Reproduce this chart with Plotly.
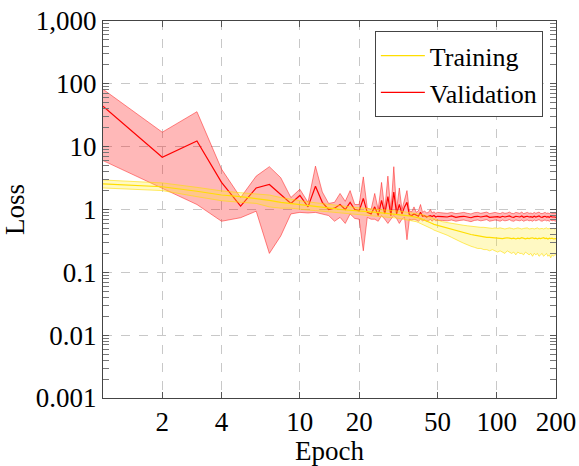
import plotly.graph_objects as go

epochs = list(range(1, 51)) + list(range(53, 201, 3))

val_mean = [44, 6.8, 12.3, 2.7, 1.13, 2.2, 2.5, 1.7, 1.25, 1.67,
            1.1, 2.35, 1.3, 1.0, 1.05, 1.2, 1.0, 1.3, 1.0, 0.95,
            1.5, 0.9, 0.85, 1.1, 0.8, 1.4, 0.85, 1.6, 0.8, 1.9,
            0.85, 1.2, 0.85, 1.1, 1.3, 0.82, 0.8, 0.85, 0.8, 0.78,
            0.9, 0.78, 0.8, 0.76, 0.78, 0.8, 0.77, 0.8, 0.76, 0.78,
            0.77, 0.76, 0.79, 0.75, 0.77, 0.78, 0.76, 0.74, 0.77, 0.78,
            0.76, 0.77, 0.79, 0.75, 0.76, 0.78, 0.77, 0.75, 0.78, 0.76,
            0.77, 0.79, 0.76, 0.75, 0.78, 0.77, 0.76, 0.79, 0.75, 0.77,
            0.78, 0.76, 0.77, 0.75, 0.78, 0.76, 0.77, 0.79, 0.76, 0.75,
            0.77, 0.78, 0.76, 0.77, 0.75, 0.78, 0.76, 0.77, 0.76, 0.75]
val_lo = [6, 2.2, 1.2, 0.65, 0.74, 0.94, 0.2, 0.38, 0.85, 0.9,
          0.88, 0.9, 0.85, 0.8, 0.65, 0.75, 0.6, 0.85, 0.72, 0.7,
          0.22, 0.75, 0.7, 0.7, 0.65, 0.8, 0.7, 0.6, 0.7, 0.8,
          0.72, 0.6, 0.7, 0.75, 0.33, 0.7, 0.68, 0.7, 0.68, 0.65,
          0.7, 0.66, 0.68, 0.65, 0.66, 0.7, 0.65, 0.7, 0.66, 0.67,
          0.67, 0.66, 0.68, 0.65, 0.67, 0.68, 0.66, 0.64, 0.67, 0.68,
          0.66, 0.67, 0.69, 0.65, 0.66, 0.68, 0.67, 0.65, 0.68, 0.66,
          0.67, 0.69, 0.66, 0.65, 0.68, 0.67, 0.66, 0.68, 0.65, 0.67,
          0.68, 0.66, 0.67, 0.65, 0.68, 0.66, 0.67, 0.69, 0.66, 0.65,
          0.67, 0.68, 0.66, 0.67, 0.65, 0.68, 0.66, 0.67, 0.66, 0.65]
val_hi = [82, 17, 36, 4.4, 1.55, 3.4, 4.8, 3.2, 1.55, 2.1,
          1.3, 4.9, 1.9, 1.25, 1.3, 1.8, 1.35, 2.0, 1.2, 1.2,
          3.3, 1.05, 1.0, 1.8, 1.0, 2.7, 1.0, 3.4, 0.95, 4.8,
          1.0, 2.2, 1.0, 1.5, 2.0, 0.95, 0.92, 1.1, 0.9, 0.95,
          1.2, 0.9, 0.95, 0.88, 0.9, 1.0, 0.88, 0.92, 0.87, 0.9,
          0.88, 0.87, 0.9, 0.86, 0.88, 0.9, 0.87, 0.85, 0.89, 0.9,
          0.87, 0.88, 0.91, 0.86, 0.87, 0.9, 0.88, 0.86, 0.9, 0.87,
          0.88, 0.91, 0.87, 0.86, 0.9, 0.88, 0.87, 0.91, 0.86, 0.88,
          0.9, 0.87, 0.88, 0.86, 0.9, 0.87, 0.88, 0.91, 0.87, 0.86,
          0.88, 0.9, 0.87, 0.88, 0.86, 0.9, 0.87, 0.88, 0.87, 0.86]

train_mean = [2.55, 2.3, 1.95, 1.7, 1.6, 1.5, 1.4, 1.3, 1.25, 1.2,
              1.15, 1.12, 1.08, 1.05, 1.03, 1.0, 0.99, 0.98, 0.96, 0.95,
              0.94, 0.93, 0.92, 0.91, 0.9, 0.89, 0.88, 0.87, 0.86, 0.85,
              0.84, 0.83, 0.82, 0.81, 0.8, 0.79, 0.78, 0.77, 0.76, 0.74,
              0.72, 0.7, 0.68, 0.66, 0.64, 0.62, 0.6, 0.58, 0.57, 0.55,
              0.52, 0.5, 0.48, 0.46, 0.44, 0.42, 0.41, 0.4, 0.39, 0.38,
              0.375, 0.37, 0.36, 0.36, 0.355, 0.35, 0.355, 0.35, 0.345, 0.35,
              0.355, 0.35, 0.345, 0.35, 0.34, 0.35, 0.345, 0.355, 0.35, 0.34,
              0.35, 0.345, 0.35, 0.355, 0.345, 0.35, 0.34, 0.35, 0.345, 0.35,
              0.355, 0.345, 0.35, 0.34, 0.35, 0.345, 0.35, 0.34, 0.345, 0.345]
train_lo = [2.2, 2.0, 1.6, 1.38, 1.3, 1.25, 1.1, 1.05, 1.05, 1.0,
            0.98, 0.96, 0.94, 0.92, 0.9, 0.88, 0.87, 0.86, 0.85, 0.84,
            0.83, 0.82, 0.81, 0.8, 0.79, 0.78, 0.77, 0.76, 0.75, 0.74,
            0.73, 0.72, 0.71, 0.7, 0.69, 0.68, 0.67, 0.66, 0.64, 0.62,
            0.6, 0.58, 0.56, 0.54, 0.52, 0.5, 0.49, 0.47, 0.46, 0.45,
            0.42, 0.39, 0.36, 0.33, 0.31, 0.29, 0.27, 0.26, 0.25, 0.24,
            0.24, 0.23, 0.23, 0.22, 0.23, 0.22, 0.21, 0.22, 0.21, 0.2,
            0.22, 0.21, 0.2, 0.21, 0.19, 0.21, 0.2, 0.2, 0.19, 0.21,
            0.2, 0.19, 0.2, 0.18, 0.2, 0.19, 0.2, 0.18, 0.19, 0.2,
            0.18, 0.19, 0.2, 0.18, 0.19, 0.17, 0.19, 0.18, 0.19, 0.19]
train_hi = [2.95, 2.65, 2.25, 1.98, 1.85, 1.75, 1.7, 1.55, 1.45, 1.4,
            1.32, 1.28, 1.24, 1.2, 1.17, 1.14, 1.12, 1.1, 1.08, 1.06,
            1.05, 1.04, 1.03, 1.02, 1.01, 1.0, 0.99, 0.98, 0.97, 0.96,
            0.95, 0.94, 0.93, 0.92, 0.91, 0.9, 0.89, 0.88, 0.87, 0.86,
            0.85, 0.83, 0.81, 0.79, 0.77, 0.75, 0.73, 0.71, 0.69, 0.67,
            0.64, 0.62, 0.6, 0.59, 0.57, 0.56, 0.55, 0.54, 0.54, 0.53,
            0.52, 0.52, 0.51, 0.51, 0.5, 0.51, 0.5, 0.51, 0.5, 0.49,
            0.5, 0.51, 0.5, 0.49, 0.5, 0.51, 0.5, 0.49, 0.5, 0.5,
            0.51, 0.49, 0.5, 0.5, 0.49, 0.5, 0.51, 0.49, 0.5, 0.5,
            0.49, 0.5, 0.51, 0.49, 0.5, 0.49, 0.5, 0.5, 0.49, 0.5]

x_ticks = [2, 4, 10, 20, 50, 100, 200]
y_ticks = [0.001, 0.01, 0.1, 1, 10, 100, 1000]
y_tick_text = ["0.001", "0.01", "0.1", "1", "10", "100", "1,000"]
y_minor = [m * d for d in y_ticks[:-1] for m in range(2, 10)]

RED = "rgb(255,0,0)"
RED_EDGE = "rgba(255,0,0,0.45)"
RED_FILL = "rgba(255,0,0,0.28)"
YEL = "rgb(255,222,0)"
YEL_EDGE = "rgba(255,222,0,0.6)"
YEL_FILL = "rgba(255,235,40,0.28)"
FONT = "Liberation Serif"

fig = go.Figure()

def add_band(name, mean, lo, hi, line_c, edge_c, fill_c):
    fig.add_trace(go.Scatter(x=epochs, y=hi, mode="lines", line=dict(color=edge_c, width=1),
                             showlegend=False, hoverinfo="skip"))
    fig.add_trace(go.Scatter(x=epochs, y=lo, mode="lines", line=dict(color=edge_c, width=1),
                             fill="tonexty", fillcolor=fill_c, showlegend=False, hoverinfo="skip"))
    fig.add_trace(go.Scatter(x=epochs, y=mean, mode="lines", name=name,
                             line=dict(color=line_c, width=1.2)))

add_band("Validation", val_mean, val_lo, val_hi, RED, RED_EDGE, RED_FILL)
add_band("Training", train_mean, train_lo, train_hi, YEL, YEL_EDGE, YEL_FILL)

axis_common = dict(
    type="log", showline=True, linecolor="#444", linewidth=1, mirror="allticks",
    showgrid=True, gridcolor="#c8c8c8", griddash="dash", gridwidth=1,
    ticks="inside", ticklen=6, tickcolor="#555", zeroline=False, automargin=False,
    tickfont=dict(family=FONT, size=27, color="black"),
)

fig.update_xaxes(**axis_common, range=[0, 2.30103], tickmode="array",
                 tickvals=x_ticks, ticktext=[str(v) for v in x_ticks],
                 title=dict(text="Epoch", font=dict(family=FONT, size=27, color="black"), standoff=4))
fig.update_yaxes(**axis_common, range=[-3, 3], tickmode="array",
                 tickvals=y_ticks, ticktext=y_tick_text,
                 minor=dict(ticks="inside", ticklen=6, tickcolor="#777", tickmode="array",
                            tickvals=y_minor, showgrid=False),
                 title=dict(text="Loss", font=dict(family=FONT, size=27, color="black"), standoff=10))

fig.update_layout(
    width=579, height=466,
    margin=dict(l=103, r=23, t=21, b=68),
    plot_bgcolor="white", paper_bgcolor="white",
    legend=dict(x=0.971, y=0.973, xanchor="right", yanchor="top",
                bordercolor="#444", borderwidth=1, bgcolor="white",
                font=dict(family=FONT, size=26, color="black"),
                traceorder="reversed", tracegroupgap=0, itemwidth=44),
    showlegend=True,
)

fig.write_html("out.html")
